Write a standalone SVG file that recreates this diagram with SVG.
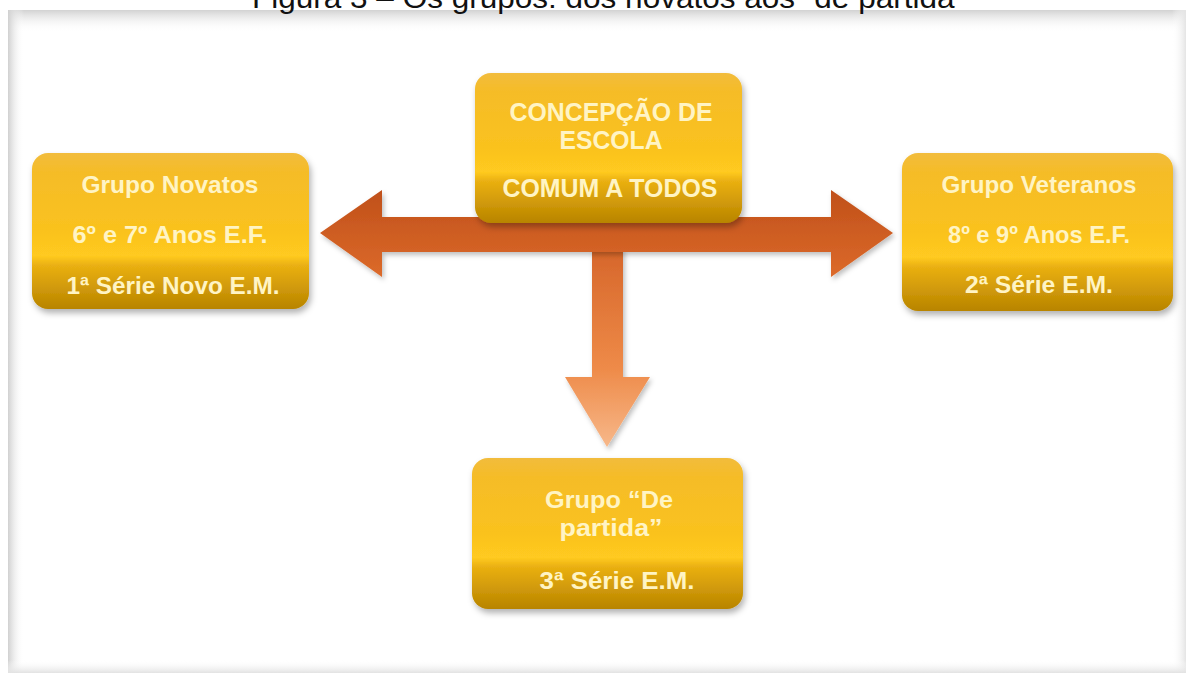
<svg xmlns="http://www.w3.org/2000/svg" width="1192" height="675" viewBox="0 0 1192 675">
<defs>
<style>
.t{font-family:"Liberation Sans",Arial,sans-serif;font-weight:bold;fill:#FFF4C4;text-anchor:middle}
.title{font-family:"Liberation Sans",Arial,sans-serif;font-size:30px;fill:#111}
.box{fill:url(#gold);filter:url(#sh)}
</style>
<linearGradient id="gold" x1="0" y1="0" x2="0" y2="1">
<stop offset="0" stop-color="#F2BC3C"/>
<stop offset="0.12" stop-color="#F5BC28"/>
<stop offset="0.5" stop-color="#FAC21E"/>
<stop offset="0.66" stop-color="#FFCA20"/>
<stop offset="0.72" stop-color="#EAB012"/>
<stop offset="1" stop-color="#B88400"/>
</linearGradient>
<linearGradient id="hor" x1="0" y1="0" x2="0" y2="1">
<stop offset="0" stop-color="#C0501A"/>
<stop offset="1" stop-color="#DC6A2A"/>
</linearGradient>
<linearGradient id="ver" x1="0" y1="0" x2="0" y2="1">
<stop offset="0" stop-color="#D6662A"/>
<stop offset="0.6" stop-color="#EE8A48"/>
<stop offset="1" stop-color="#F7B88A"/>
</linearGradient>
<linearGradient id="topSh" x1="0" y1="0" x2="0" y2="1">
<stop offset="0" stop-color="#D2D2D2"/>
<stop offset="1" stop-color="#FFFFFF" stop-opacity="0"/>
</linearGradient>
<linearGradient id="leftSh" x1="0" y1="0" x2="1" y2="0">
<stop offset="0" stop-color="#D0D0D0"/>
<stop offset="1" stop-color="#FFFFFF" stop-opacity="0"/>
</linearGradient>
<linearGradient id="rightSh" x1="1" y1="0" x2="0" y2="0">
<stop offset="0" stop-color="#E4E4E4"/>
<stop offset="1" stop-color="#FFFFFF" stop-opacity="0"/>
</linearGradient>
<linearGradient id="botSh" x1="0" y1="1" x2="0" y2="0">
<stop offset="0" stop-color="#E2E2E2"/>
<stop offset="1" stop-color="#FFFFFF" stop-opacity="0"/>
</linearGradient>
<filter id="sh" x="-10%" y="-10%" width="125%" height="130%">
<feDropShadow dx="2" dy="4" stdDeviation="3" flood-color="#000" flood-opacity="0.3"/>
</filter>
<filter id="ash" x="-5%" y="-10%" width="115%" height="130%">
<feDropShadow dx="2" dy="3" stdDeviation="2.5" flood-color="#000" flood-opacity="0.25"/>
</filter>
</defs>
<rect width="1192" height="675" fill="#FFFFFF"/>
<g id="frame">
<rect x="8" y="10" width="1178" height="663" fill="#FFFFFF"/>
<rect x="8" y="10" width="1178" height="22" fill="url(#topSh)"/>
<rect x="8" y="10" width="16" height="663" fill="url(#leftSh)"/>
<rect x="1172" y="10" width="14" height="663" fill="url(#rightSh)"/>
<rect x="8" y="660" width="1178" height="13" fill="url(#botSh)"/>
</g>
<text class="title" x="252" y="8" textLength="713" lengthAdjust="spacingAndGlyphs">Figura 3 – Os grupos: dos novatos aos “de partida”</text>
<g id="connectors">
<polygon filter="url(#ash)" fill="url(#ver)" points="592,248 623,248 623,377 650,377 607,447 565,377 592,377"/>
<polygon filter="url(#ash)" fill="url(#hor)" points="320,233 382,190 382,217 831,217 831,190 893,233 831,277 831,252 382,252 382,277"/>
</g>
<g id="node-novatos">
<rect class="box" x="32" y="153" width="277" height="156" rx="16"/>
<text class="t" x="170" y="193" font-size="24" textLength="177" lengthAdjust="spacingAndGlyphs">Grupo Novatos</text>
<text class="t" x="170" y="243" font-size="24" textLength="195" lengthAdjust="spacingAndGlyphs">6º e 7º Anos E.F.</text>
<text class="t" x="173" y="294" font-size="24" textLength="213" lengthAdjust="spacingAndGlyphs">1ª Série Novo E.M.</text>
</g>
<g id="node-concepcao">
<rect class="box" x="475" y="73" width="267" height="150" rx="16"/>
<text class="t" x="611" y="121" font-size="26" textLength="203" lengthAdjust="spacingAndGlyphs">CONCEPÇÃO DE</text>
<text class="t" x="611" y="149" font-size="26" textLength="103" lengthAdjust="spacingAndGlyphs">ESCOLA</text>
<text class="t" x="610" y="197" font-size="26" textLength="215" lengthAdjust="spacingAndGlyphs">COMUM A TODOS</text>
</g>
<g id="node-veteranos">
<rect class="box" x="902" y="153" width="271" height="158" rx="16"/>
<text class="t" x="1039" y="193" font-size="24" textLength="195" lengthAdjust="spacingAndGlyphs">Grupo Veteranos</text>
<text class="t" x="1039" y="243" font-size="24" textLength="182" lengthAdjust="spacingAndGlyphs">8º e 9º Anos E.F.</text>
<text class="t" x="1039" y="293" font-size="24" textLength="148" lengthAdjust="spacingAndGlyphs">2ª Série E.M.</text>
</g>
<g id="node-departida">
<rect class="box" x="472" y="458" width="271" height="151" rx="16"/>
<text class="t" x="609" y="508" font-size="24" textLength="128" lengthAdjust="spacingAndGlyphs">Grupo “De</text>
<text class="t" x="611" y="536" font-size="24" textLength="103" lengthAdjust="spacingAndGlyphs">partida”</text>
<text class="t" x="617" y="589" font-size="24" textLength="155" lengthAdjust="spacingAndGlyphs">3ª Série E.M.</text>
</g>
</svg>
